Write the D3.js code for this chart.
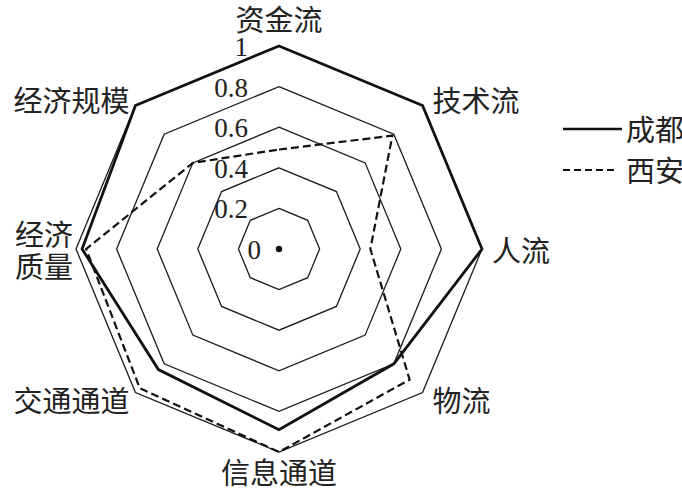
<!DOCTYPE html>
<html><head><meta charset="utf-8">
<script src="https://cdn.jsdelivr.net/npm/d3@7/dist/d3.min.js"></script>
<style>
html,body{margin:0;padding:0;background:#fff;}
svg{display:block;}
</style>
</head><body>
<svg id="chart" width="682" height="490"></svg>
<script>
const categories = ["资金流","技术流","人流","物流","信息通道","交通通道","经济质量","经济规模"];
const chengdu = [1, 1, 1, 0.8, 0.89, 0.84, 0.97, 1];
const xian = [0.49, 0.79, 0.45, 0.91, 1.0, 0.97, 0.95, 0.6];
const ticks = [0, 0.2, 0.4, 0.6, 0.8, 1];
const tickLabels = ["0", "0.2", "0.4", "0.6", "0.8", "1"];
const seriesNames = ["成都", "西安"];

const svg = d3.select("#chart");
const cx = 279, cy = 249, R = 203;
const r = d3.scaleLinear().domain([0, 1]).range([0, R]);
const angle = d3.scalePoint().domain(d3.range(categories.length + 1)).range([0, 2 * Math.PI]);
const ang = i => angle(i);
const g = svg.append("g").attr("transform", `translate(${cx},${cy})`);

const radial = d3.lineRadial()
  .angle((d, i) => ang(i))
  .radius(d => r(d))
  .curve(d3.curveLinearClosed);

const cjk = "'Noto Sans CJK SC', 'Noto Sans CJK JP', sans-serif";
const serif = "'Liberation Serif', 'DejaVu Serif', serif";

// grid rings
ticks.filter(t => t > 0).forEach(t => {
  g.append("path")
    .attr("d", radial(categories.map(() => t)))
    .attr("fill", "none").attr("stroke", "#1a1a1a").attr("stroke-width", 1.3);
});

// centre dot
g.append("circle").attr("r", 3.2).attr("fill", "#111");

// tick labels
ticks.forEach((t, i) => {
  g.append("text")
    .attr("x", t === 0 ? -18 : -31)
    .attr("y", -r(t) + 10)
    .attr("text-anchor", "end")
    .attr("font-family", serif)
    .attr("font-size", 27)
    .attr("fill", "#222")
    .text(tickLabels[i]);
});

// series
g.append("path")
  .attr("d", radial(xian))
  .attr("fill", "none").attr("stroke", "#111").attr("stroke-width", 2.2)
  .attr("stroke-dasharray", "8,4").attr("stroke-linejoin", "miter");
g.append("path")
  .attr("d", radial(chengdu))
  .attr("fill", "none").attr("stroke", "#111").attr("stroke-width", 2.8)
  .attr("stroke-linejoin", "miter");

// category labels
categories.forEach((c, i) => {
  const a = ang(i);
  const s = Math.sin(a), co = Math.cos(a);
  const vx = r(1) * s, vy = -r(1) * co;
  let anchor = "middle", dx = 0, dy = -co * 9;
  if (s > 0.1) { anchor = "start"; dx = 10; }
  else if (s < -0.1) { anchor = "end"; dx = -6; }
  else { dy = co > 0 ? -28 : 19; }
  if (i === 6) dx = -3;
  const t = g.append("text")
    .attr("text-anchor", anchor)
    .attr("dominant-baseline", "central")
    .attr("font-family", cjk)
    .attr("font-size", 29)
    .attr("fill", "#222");
  if (c.length === 4 && Math.abs(co) < 0.1) {
    t.append("tspan").attr("x", vx + dx).attr("y", vy + dy - 16).text(c.slice(0, 2));
    t.append("tspan").attr("x", vx + dx).attr("y", vy + dy + 16).text(c.slice(2));
  } else {
    t.attr("x", vx + dx).attr("y", vy + dy).text(c);
  }
});

// legend
const leg = svg.append("g");
[{name: seriesNames[0], dash: null, w: 2.6, y: 129, len: 59},
 {name: seriesNames[1], dash: "7,4", w: 2, y: 170, len: 54}].forEach(d => {
  leg.append("line").attr("x1", 563).attr("x2", 563 + d.len).attr("y1", d.y).attr("y2", d.y)
    .attr("stroke", "#111").attr("stroke-width", d.w)
    .attr("stroke-dasharray", d.dash);
  leg.append("text").attr("x", 626).attr("y", d.y - 1)
    .attr("dominant-baseline", "central")
    .attr("font-family", cjk).attr("font-size", 29).attr("fill", "#222")
    .text(d.name);
});
</script>
</body></html>
